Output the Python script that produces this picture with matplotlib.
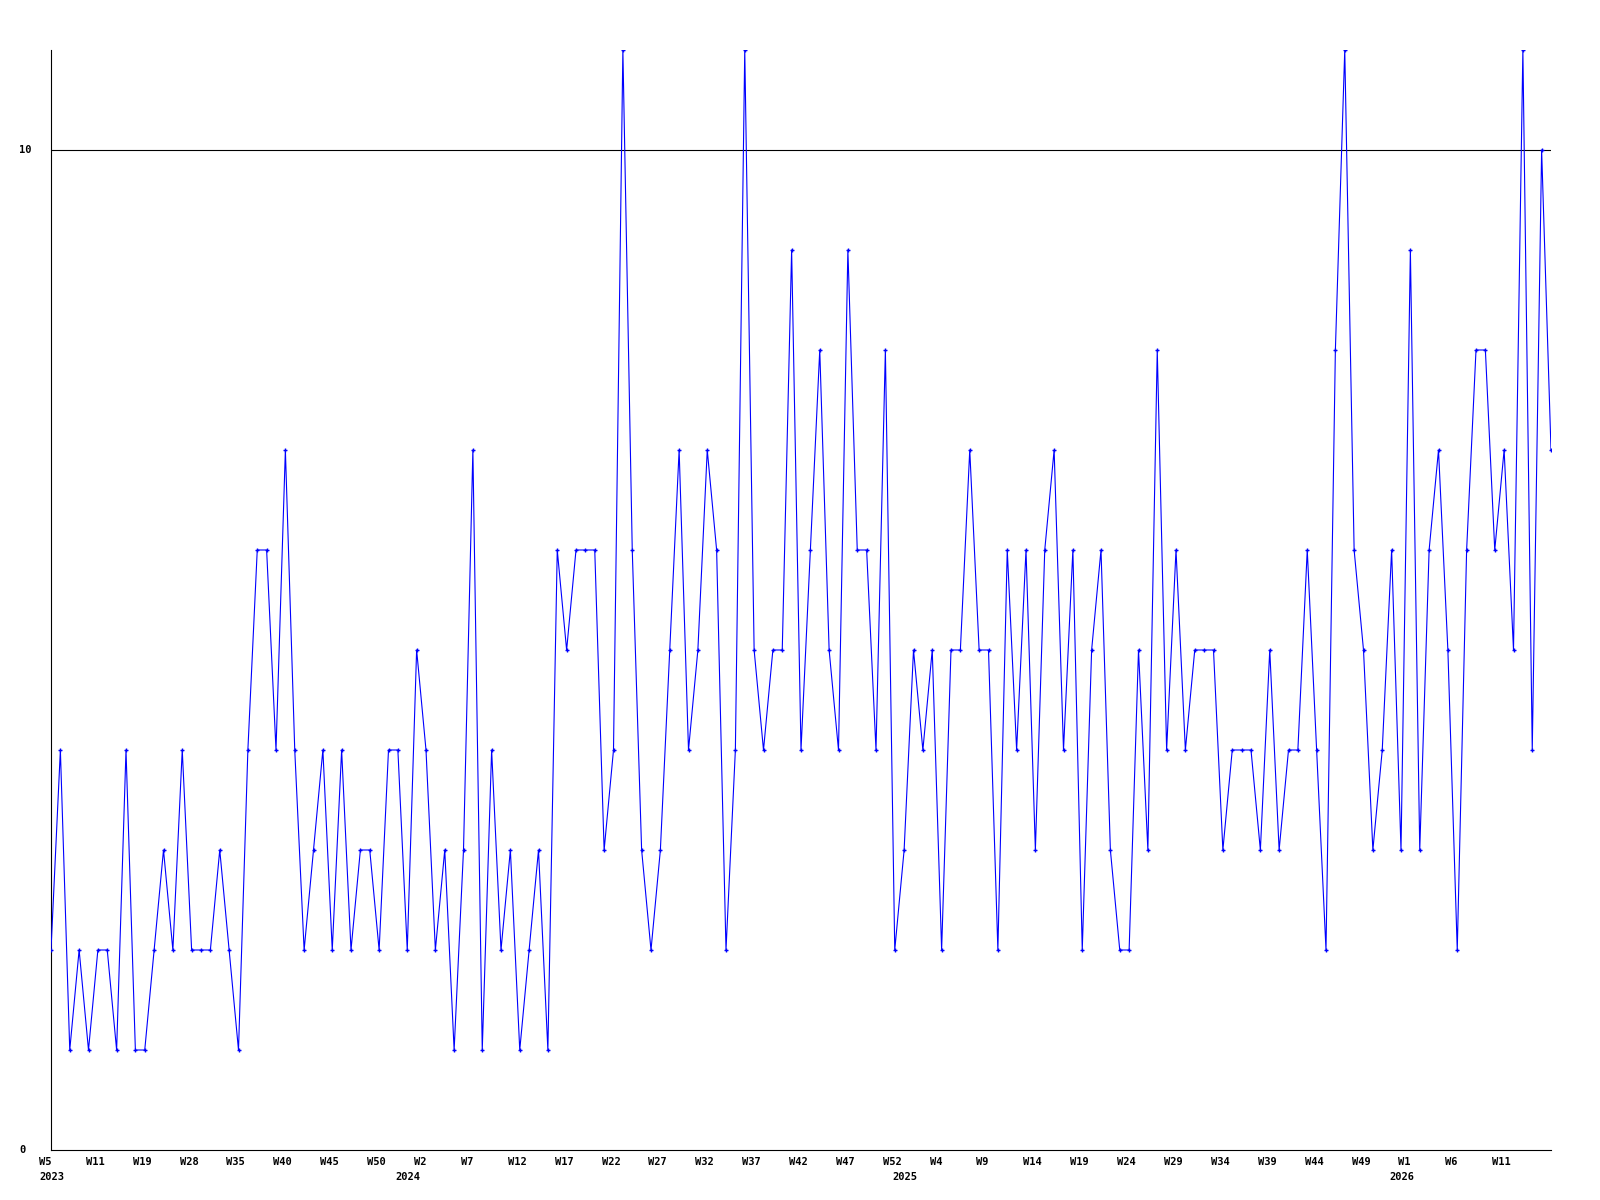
import matplotlib
matplotlib.use("Agg")
import matplotlib.pyplot as plt
import matplotlib.transforms as mtransforms
import numpy as np

# weekly counts, 2023 W5 .. 2026
values = [
    2, 4, 1, 2, 1, 2, 2, 1, 4, 1, 1, 2, 3, 2, 4, 2, 2, 2, 3, 2,
    1, 4, 6, 6, 4, 7, 4, 2, 3, 4, 2, 4, 2, 3, 3, 2, 4, 4, 2, 5,
    4, 2, 3, 1, 3, 7, 1, 4, 2, 3, 1, 2, 3, 1, 6, 5, 6, 6, 6, 3,
    4, 11, 6, 3, 2, 3, 5, 7, 4, 5, 7, 6, 2, 4, 11, 5, 4, 5, 5, 9,
    4, 6, 8, 5, 4, 9, 6, 6, 4, 8, 2, 3, 5, 4, 5, 2, 5, 5, 7, 5,
    5, 2, 6, 4, 6, 3, 6, 7, 4, 6, 2, 5, 6, 3, 2, 2, 5, 3, 8, 4,
    6, 4, 5, 5, 5, 3, 4, 4, 4, 3, 5, 3, 4, 4, 6, 4, 2, 8, 11, 6,
    5, 3, 4, 6, 3, 9, 3, 6, 7, 5, 2, 6, 8, 8, 6, 7, 5, 11, 4, 10,
    7,
]
week_labels = [
    "W5", "W11", "W19", "W28", "W35", "W40", "W45", "W50", "W2", "W7", "W12",
    "W17", "W22", "W27", "W32", "W37", "W42", "W47", "W52", "W4", "W9", "W14",
    "W19", "W24", "W29", "W34", "W39", "W44", "W49", "W1", "W6", "W11",
]
label_step = 5
years = ["2023", "2024", "2025", "2026"]
year_pos = [0, 38, 91, 144]
y_ticks = [0, 10]

x = np.arange(len(values))

fig = plt.figure(figsize=(16, 12), dpi=100)
ax = fig.add_axes([51 / 1600, 50 / 1200, 1500 / 1600, 1100 / 1200])

ax.axhline(10, color="black", lw=0.8, zorder=1)
ax.plot(x, values, color="#0000ff", lw=0.8, marker="+", ms=3.5, mew=1.0,
        mec="#0000ff", zorder=3)

ax.set_xlim(0, len(values) - 1)
ax.set_ylim(0, 11)
ax.set_xticks([])
ax.set_yticks([])
for side in ["top", "right"]:
    ax.spines[side].set_visible(False)
for side in ["left", "bottom"]:
    ax.spines[side].set_color("black")
    ax.spines[side].set_linewidth(0.8)

font = dict(family="DejaVu Sans Mono", fontweight="bold", fontsize=7.5)

# x labels, left aligned a bit before the point
shift = mtransforms.ScaledTranslation(-12 / 100, 0, fig.dpi_scale_trans)
trans_x = mtransforms.blended_transform_factory(ax.transData, ax.transAxes) + shift
for i, lab in enumerate(week_labels):
    ax.text(i * label_step, -0.0109, lab, transform=trans_x,
            ha="left", va="center", **font)
for pos, yr in zip(year_pos, years):
    ax.text(pos, -0.0245, yr, transform=trans_x, ha="left", va="center", **font)

# y labels
trans_y = mtransforms.blended_transform_factory(fig.transFigure, ax.transData)
for v in y_ticks:
    ax.text(19 / 1600, v, str(v), transform=trans_y, ha="left", va="center", **font)

fig.savefig("out.png", dpi=100)
